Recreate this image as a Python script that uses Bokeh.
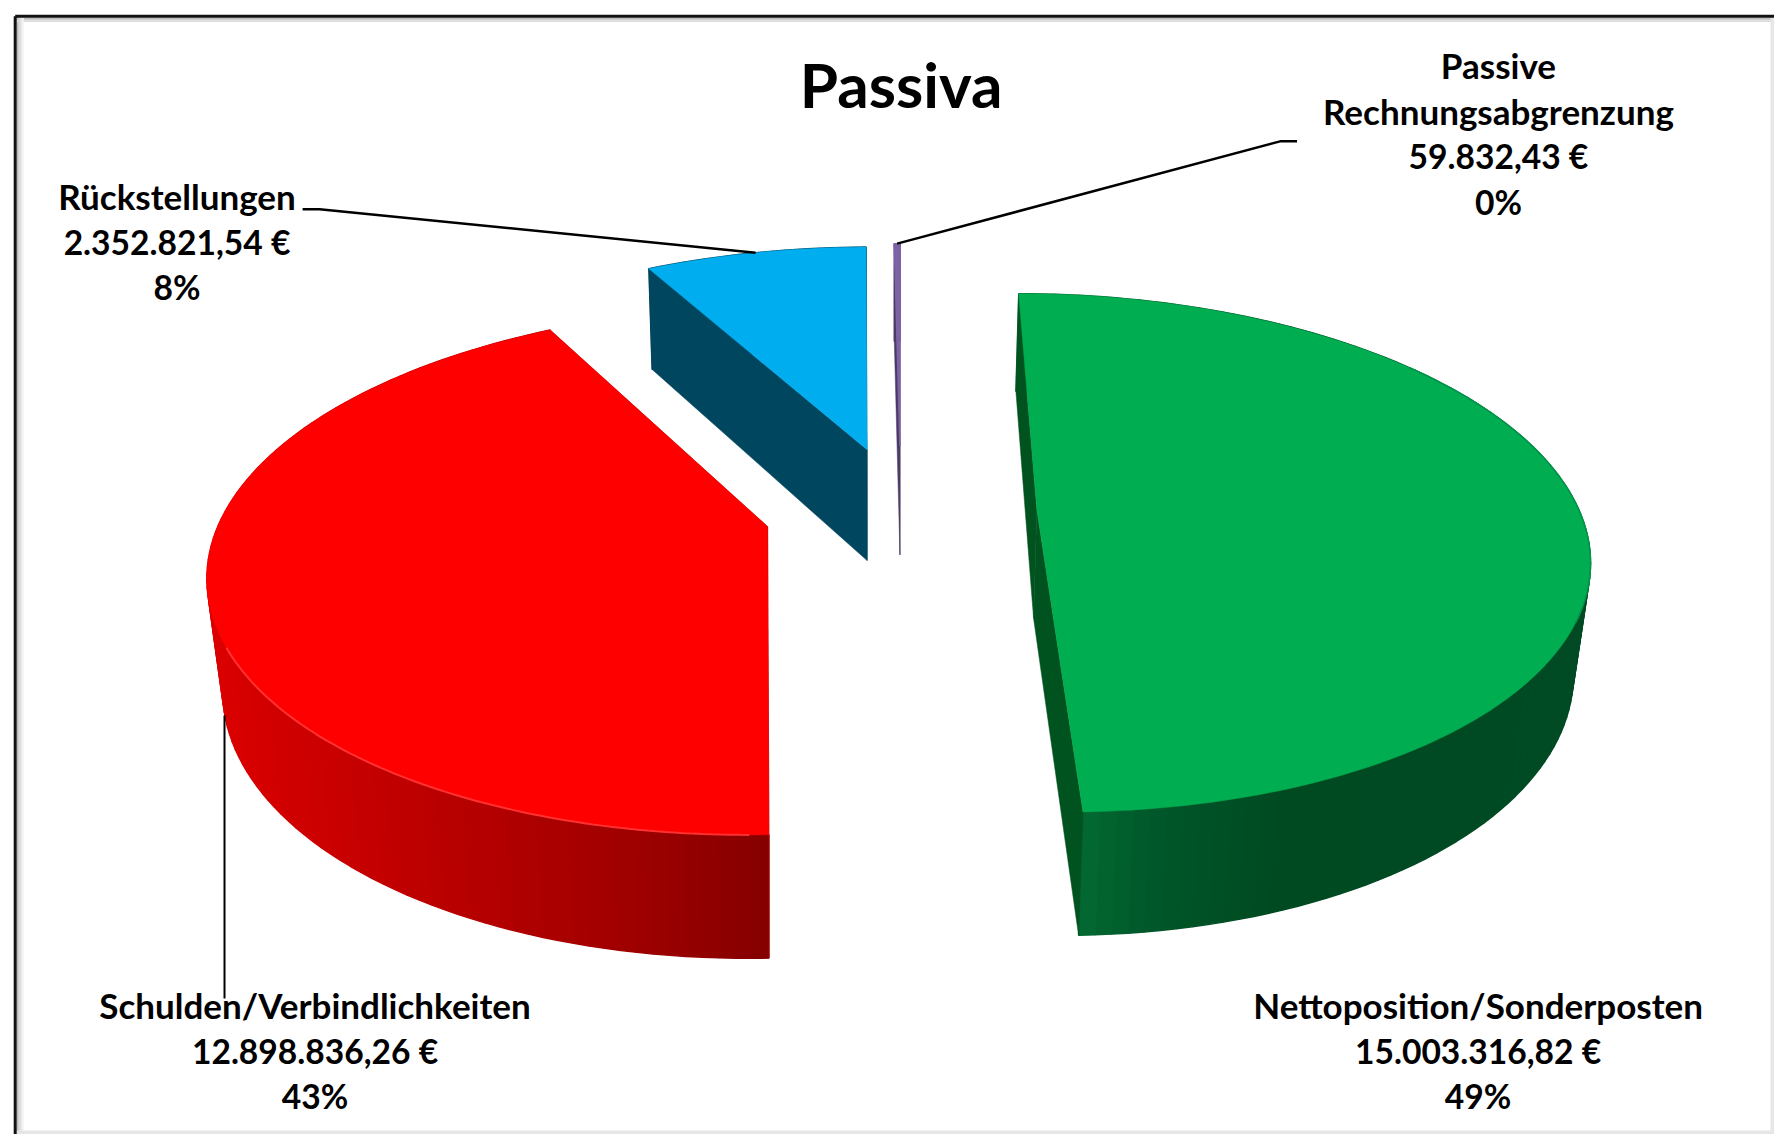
from bokeh.plotting import figure
from bokeh.embed import file_html
from bokeh.resources import INLINE
from bokeh.core.properties import value
import numpy as np

# ---- data -------------------------------------------------------------
title = "Passiva"
names = ["Nettoposition/Sonderposten", "Schulden/Verbindlichkeiten", "Rückstellungen", "Passive|Rechnungsabgrenzung"]
amounts = [15003316.82, 12898836.26, 2352821.54, 59832.43]

# ---- layout: units are reference px * (1568/1774) ----------------------
U = 1774 / 1568
P = 0.167  # perspective
GEOM = [
    dict(ax=916, ay=450, a=479, b=18.7, c=222.7, D=96, xv=800, k=0.025),
    dict(ax=678, ay=465, a=486, b=-14.5, c=227, D=96, xv=678, k=0.028),
    dict(ax=766, ay=397, a=470, b=-4.7, c=209, D=98, xv=766, k=0.015),
    dict(ax=795, ay=394, a=470, b=0, c=209, D=96, xv=795, k=0.0),
]
TOP = ["#00ad50", "#fe0000", "#00adef", "#7d62a6"]
FACE = ["#00521f", "#a00000", "#00465f", "#4a3a66"]
WALL = [
    [(950, "#036a33"), (1010, "#00582a"), (1120, "#004a22"), (1400, "#004a24")],
    [(190, "#dc0000"), (330, "#c40000"), (520, "#a60000"), (678, "#860000")],
    [(500, "#00465f"), (800, "#00465f")],
    [(700, "#4a3a66"), (900, "#4a3a66")],
]
LABEL_POS = [(1306, 888), (278, 888), (156, 173), (1324, 57)]
LINE_H = 40.3
FS_NAME = "35px"
FS_NUM = "33.6px"


def pt(g, th, scale=1.0, bottom=False):
    u, v = np.sin(th) * scale, -np.cos(th) * scale
    s = 1 / (1 - P * v)
    x = g["ax"] + (g["a"] * u + g["b"] * v) * s
    y = g["ay"] + g["c"] * v * s
    if bottom:
        x = x - g["k"] * (x - g["xv"])
        y = y + g["D"] * s ** 0.7
    return x, y


def wall_color(stops, x):
    xs = [a for a, _ in stops]
    rgb = np.array([[int(c[i:i + 2], 16) for i in (1, 3, 5)] for _, c in stops], float)
    vals = [int(round(np.interp(x, xs, rgb[:, j]))) for j in range(3)]
    return "#%02x%02x%02x" % tuple(vals)


p = figure(width=1774, height=1134, x_range=(0, 1774 / U), y_range=(1134 / U, 0),
           output_backend="svg", toolbar_location=None,
           x_axis_location=None, y_axis_location=None, min_border=0,
           background_fill_color="white", border_fill_color="white", outline_line_color=None)
p.grid.visible = False

# frame with soft shadow
for i, col in enumerate(["#bcbcbc", "#cdcdcd", "#dcdcdc", "#e9e9e9", "#f4f4f4"]):
    off = (2.2 + i * 1.4) / U
    p.line([(14.7 / U) + off] * 2, [16 / U, 1134 / U], line_color=col, line_width=1.6)
    if i < 3:
        p.line([15 / U, 1774 / U], [(15.7 / U) + off] * 2, line_color=col, line_width=1.4)
p.line([1772 / U, 1772 / U], [16 / U, 1134 / U], line_color="#e6e6e6", line_width=4)
p.line([15 / U, 1774 / U], [1132 / U, 1132 / U], line_color="#e6e6e6", line_width=4)
p.line([14.7 / U, 14.7 / U], [1134 / U, 15.7 / U], line_color="#111111", line_width=3)
p.line([14.7 / U, 1774 / U], [15.7 / U, 15.7 / U], line_color="#111111", line_width=3)

# pie
total = sum(amounts)
# clockwise from the top: net position, debts, provisions, deferred income
starts = np.cumsum([0] + amounts[:-1]) / total * 2 * np.pi
ends = np.cumsum(amounts) / total * 2 * np.pi
mids = (starts + ends) / 2

for i, g in enumerate(GEOM):
    t0, t1 = starts[i], ends[i]
    ths = np.linspace(t0, t1, max(3, int(np.degrees(t1 - t0) / 1.5) + 2))
    # outer wall, in vertical bands
    xs, ys, cs = [], [], []
    for a, b in zip(ths[:-1], ths[1:]):
        pa, pb, qb, qa = pt(g, a), pt(g, b), pt(g, b, bottom=True), pt(g, a, bottom=True)
        xs.append([pa[0], pb[0], qb[0], qa[0]])
        ys.append([pa[1], pb[1], qb[1], qa[1]])
        cs.append(wall_color(WALL[i], (qa[0] + qb[0]) / 2))
    p.patches(xs, ys, fill_color=cs, line_color=cs, line_width=1.4)
    # cut faces
    for t in (t0, t1):
        o, e = pt(g, t), pt(g, t, scale=0.0)
        be, bo = pt(g, t, scale=0.0, bottom=True), pt(g, t, bottom=True)
        p.patch([o[0], e[0], be[0], bo[0]], [o[1], e[1], be[1], bo[1]],
                fill_color=FACE[i], line_color=FACE[i], line_width=0.5)
    # top surface
    arc = [pt(g, t) for t in np.linspace(t0, t1, 120)]
    c = pt(g, t0, scale=0.0)
    width = 1.5 if i == 3 else 0.5
    p.patch([c[0]] + [a[0] for a in arc], [c[1]] + [a[1] for a in arc],
            fill_color=TOP[i], line_color=TOP[i], line_width=width)

# rim highlights
g = GEOM[1]
rim = [pt(g, t) for t in np.linspace(starts[1] + 0.03, starts[1] + 1.15, 80)]
p.line([a[0] for a in rim], [a[1] for a in rim], line_color="#ff3030", line_width=2)
g = GEOM[0]
rim = [pt(g, t) for t in np.linspace(0.9, 2.0, 60)]
p.line([a[0] for a in rim], [a[1] for a in rim], line_color="#00934a", line_width=1.5)

# leader lines, ending on the slices
LC = "#000000"
e = pt(GEOM[2], mids[2])
p.line([267, 282, e[0]], [184.5, 184.5, e[1]], line_color=LC, line_width=2.5)
e = pt(GEOM[3], mids[3])
p.line([1146, 1131, e[0]], [124.5, 124.5, e[1]], line_color=LC, line_width=2.5)
p.line([198, 198], [882, 632], line_color=LC, line_width=2)

# labels
for i, n in enumerate(names):
    eur = f"{amounts[i]:,.2f}".replace(",", "_").replace(".", ",").replace("_", ".") + " €"
    pct = f"{round(amounts[i] / total * 100)}%"
    head = n.split("|")
    lines = head + [eur, pct]
    sizes = [FS_NAME] * len(head) + [FS_NUM, FS_NUM]
    lx, ly = LABEL_POS[i]
    for k, (line, size) in enumerate(zip(lines, sizes)):
        p.text([lx], [ly + k * LINE_H], text=[line],
               text_font=value("Lato"), text_font_style="bold", text_font_size=value(size),
               text_align="center", text_baseline="middle", text_color="#000000")

p.text([796], [74], text=[title], text_font=value("Lato"), text_font_style="bold",
       text_font_size=value("62px"), text_align="center", text_baseline="middle", text_color="#000000")

open("out.html", "w").write(file_html(p, INLINE))
